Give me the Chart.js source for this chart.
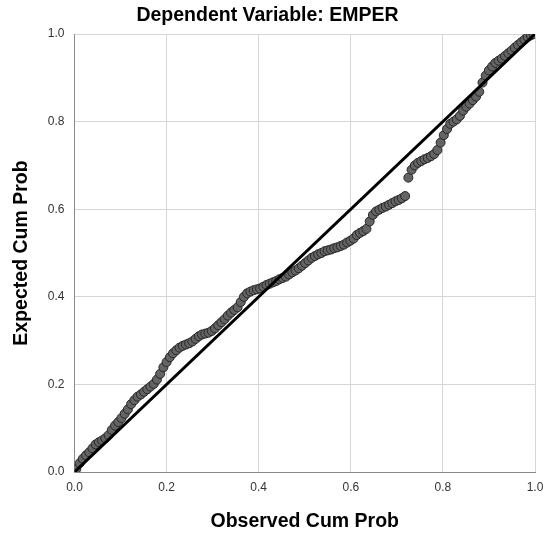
<!DOCTYPE html>
<html><head><meta charset="utf-8">
<script src="https://cdn.jsdelivr.net/npm/chart.js@4"></script>
<style>html,body{margin:0;padding:0;background:#fff}#wrap{width:548px;height:535px}</style>
</head><body><div id="wrap"><canvas id="c" width="548" height="535"></canvas></div>
<script>
const chartTitle = 'Dependent Variable: EMPER';
const xAxisTitle = 'Observed Cum Prob';
const yAxisTitle = 'Expected Cum Prob';
const tickLabels = ['0.0','0.2','0.4','0.6','0.8','1.0'];

const observedCumProb = [
0.004,0.011,0.018,0.025,0.032,0.039,0.046,0.053,0.060,0.067,
0.074,0.081,0.088,0.095,0.102,0.109,0.116,0.123,0.130,0.137,
0.144,0.151,0.158,0.165,0.172,0.179,0.186,0.193,0.200,0.207,
0.214,0.221,0.228,0.235,0.242,0.249,0.256,0.263,0.270,0.277,
0.284,0.291,0.298,0.305,0.312,0.319,0.326,0.333,0.340,0.347,
0.354,0.361,0.368,0.375,0.382,0.389,0.396,0.403,0.410,0.417,
0.424,0.431,0.438,0.445,0.452,0.459,0.466,0.473,0.480,0.487,
0.494,0.501,0.508,0.515,0.522,0.529,0.536,0.543,0.550,0.557,
0.564,0.571,0.578,0.585,0.592,0.599,0.606,0.613,0.620,0.627,
0.634,0.641,0.648,0.655,0.662,0.669,0.676,0.683,0.690,0.697,
0.704,0.711,0.718,0.725,0.732,0.739,0.746,0.753,0.760,0.767,
0.774,0.781,0.788,0.795,0.802,0.809,0.816,0.823,0.830,0.837,
0.844,0.851,0.858,0.865,0.872,0.879,0.886,0.893,0.900,0.907,
0.914,0.921,0.928,0.935,0.942,0.949,0.956,0.963,0.970,0.977,
0.984,0.991,0.997];

const expectedCumProb = [
0.007,0.020,0.030,0.038,0.045,0.054,0.063,0.068,0.072,0.077,
0.084,0.096,0.106,0.114,0.123,0.133,0.143,0.155,0.164,0.172,
0.177,0.183,0.189,0.195,0.201,0.211,0.224,0.239,0.251,0.262,
0.271,0.278,0.284,0.288,0.291,0.294,0.298,0.304,0.310,0.314,
0.316,0.318,0.322,0.328,0.335,0.342,0.349,0.357,0.364,0.370,
0.376,0.388,0.400,0.408,0.412,0.415,0.417,0.419,0.423,0.427,
0.430,0.433,0.436,0.440,0.443,0.446,0.451,0.456,0.460,0.465,
0.471,0.477,0.483,0.489,0.493,0.497,0.500,0.504,0.506,0.508,
0.511,0.513,0.516,0.519,0.524,0.528,0.533,0.541,0.546,0.550,
0.555,0.572,0.587,0.595,0.599,0.603,0.606,0.610,0.614,0.618,
0.621,0.625,0.630,0.672,0.690,0.700,0.706,0.710,0.714,0.717,
0.721,0.726,0.735,0.752,0.769,0.783,0.795,0.800,0.805,0.813,
0.825,0.834,0.841,0.849,0.857,0.868,0.889,0.905,0.917,0.926,
0.934,0.939,0.944,0.950,0.956,0.962,0.969,0.975,0.981,0.987,
0.993,0.997,1.000];

const referenceLineX = [0, 1];
const referenceLineY = [0, 1];

const pointsData = observedCumProb.map((x, i) => ({x: x, y: expectedCumProb[i]}));
const lineData = referenceLineX.map((x, i) => ({x: x, y: referenceLineY[i]}));

const FONT = "'Liberation Sans', Arial, sans-serif";

new Chart(document.getElementById('c'), {
  type: 'scatter',
  data: {
    datasets: [
      {
        label: 'Reference',
        data: lineData,
        showLine: true,
        borderColor: '#000',
        borderWidth: 3,
        pointRadius: 0,
        order: 0
      },
      {
        label: 'Observed',
        data: pointsData,
        backgroundColor: '#646464',
        borderColor: '#262626',
        borderWidth: 1,
        pointRadius: 4.5,
        order: 1
      }
    ]
  },
  options: {
    responsive: false,
    devicePixelRatio: 1,
    animation: false,
    layout: { padding: { left: 0, right: 13, top: 0, bottom: 0 } },
    plugins: {
      legend: { display: false },
      tooltip: { enabled: false },
      title: {
        display: true,
        text: chartTitle,
        color: '#000',
        font: { family: FONT, size: 19.5, weight: 'bold' },
        padding: { top: 4.3, bottom: 6.3 }
      }
    },
    scales: {
      x: {
        type: 'linear',
        min: 0, max: 1,
        afterFit: (s) => { s.height = 63; s.paddingRight = 0; s.paddingLeft = 0; },
        border: { color: '#8a8a8a', width: 1 },
        grid: { color: '#d6d6d6', lineWidth: 1, drawTicks: false },
        ticks: {
          stepSize: 0.2,
          padding: 8,
          color: '#333',
          font: { family: FONT, size: 12 },
          callback: (v, i) => tickLabels[i]
        },
        title: {
          display: true,
          text: xAxisTitle,
          color: '#000',
          font: { family: FONT, size: 19.5, weight: 'bold' },
          padding: { top: 0, bottom: 1.3 }
        }
      },
      y: {
        type: 'linear',
        min: 0, max: 1,
        afterFit: (s) => { s.width = 74.5; s.paddingTop = 0; s.paddingBottom = 0; },
        border: { color: '#8a8a8a', width: 1 },
        grid: { color: '#d6d6d6', lineWidth: 1, drawTicks: false },
        ticks: {
          stepSize: 0.2,
          padding: 10,
          color: '#333',
          font: { family: FONT, size: 12 },
          callback: (v, i) => tickLabels[i]
        },
        title: {
          display: true,
          text: yAxisTitle,
          color: '#000',
          font: { family: FONT, size: 19.5, weight: 'bold' },
          padding: { top: 10.3, bottom: 0 }
        }
      }
    }
  }
});
</script>
</body></html>
